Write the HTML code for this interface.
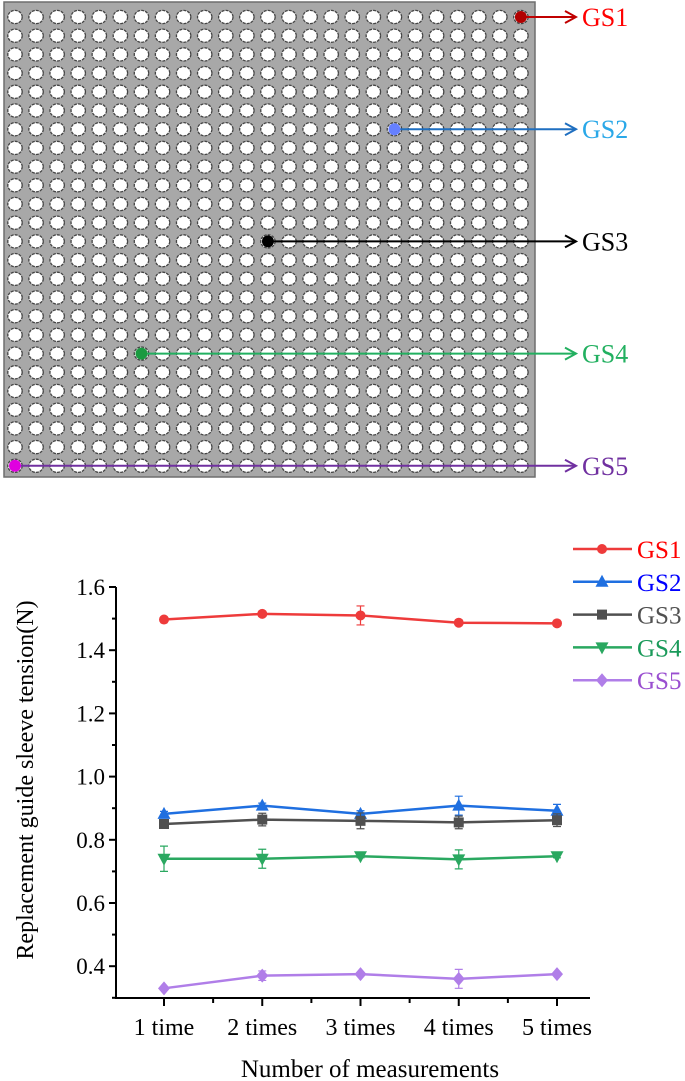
<!DOCTYPE html>
<html><head><meta charset="utf-8"><style>
body{margin:0;background:#fff;width:685px;height:1081px;overflow:hidden}
svg{display:block}
text{font-family:"Liberation Serif",serif}
</style></head><body>
<svg width="685" height="1081" viewBox="0 0 685 1081">
<defs>
<marker id="ah" markerWidth="14" markerHeight="14" refX="12" refY="7" orient="auto" markerUnits="userSpaceOnUse"><path d="M1,1 L12,7 L1,13" fill="none" stroke="context-stroke" stroke-width="2"/></marker>
</defs>
<g id="panel">
<rect x="4" y="2" width="531" height="475" fill="#a8a8a8" stroke="#6e6e6e" stroke-width="1.5"/>
<g id="holes"></g>
</g>
<g id="callouts"></g>
<g id="chart"></g>
</svg>
<script>
const NS='http://www.w3.org/2000/svg';
function mk(p,t,a){const e=document.createElementNS(NS,t);for(const k in a)e.setAttribute(k,a[k]);p.appendChild(e);return e;}
const holes=document.getElementById('holes');
for(let r=0;r<25;r++)for(let c=0;c<25;c++){
 const e=mk(holes,'ellipse',{cx:15+c*21.08,cy:17+r*18.7,rx:7.2,ry:6.6,fill:'#fff',stroke:'#444','stroke-width':1.3,'stroke-dasharray':'3 1'});
 
 
}
const callNames=['GS1','GS2','GS3','GS4','GS5'];
const callCols=[24,18,12,6,0];
const callRows=[0,6,12,18,24];
const callLine=['#c00000','#1f6fc0','#000','#22b060','#7030a0'];
const callDot=['#b00000','#6680ff','#000','#1a9a40','#e000e0'];
const callText=['#ff0000','#2aa8e8','#000','#22b060','#7030a0'];
const co=document.getElementById('callouts');
callNames.forEach((n,i)=>{
 const x=15+callCols[i]*21.08,y=17+callRows[i]*18.7;
 const l=mk(co,'line',{x1:x,y1:y,x2:576,y2:y,stroke:callLine[i],'stroke-width':2,'marker-end':'url(#ah)'});
 
 
 const d=mk(co,'circle',{cx:x,cy:y,r:6,fill:callDot[i]});
 
 
 const t=mk(co,'text',{x:582,y:y+9,'font-size':26,fill:callText[i]});t.textContent=n;
 
 
});
</script>
<script>
const categories=['1 time','2 times','3 times','4 times','5 times'];
const yTicks=[0.4,0.6,0.8,1.0,1.2,1.4,1.6];
const seriesNames=['GS1','GS2','GS3','GS4','GS5'];
const gs1=[1.497,1.515,1.51,1.487,1.485];
const gs2=[0.882,0.908,0.882,0.908,0.892];
const gs3=[0.85,0.864,0.86,0.855,0.862];
const gs4=[0.74,0.74,0.748,0.738,0.748];
const gs5=[0.33,0.37,0.375,0.36,0.375];
const err1=[0.005,0.008,0.03,0.006,0.005];
const err2=[0.008,0.008,0.01,0.03,0.02];
const err3=[0.01,0.02,0.025,0.02,0.02];
const err4=[0.04,0.03,0.005,0.03,0.005];
const err5=[0.005,0.015,0.005,0.03,0.005];
const g=document.getElementById('chart');
const X0=116,Y0=998;
const xs=i=>164+i*98.25;
const ys=v=>587-(v-1.6)*316;
const ax=mk(g,'path',{d:`M${X0},${ys(1.6)} V${Y0} H590`,fill:'none',stroke:'#000','stroke-width':2});


yTicks.forEach(v=>{
 mk(g,'line',{x1:X0-7,x2:X0,y1:ys(v),y2:ys(v),stroke:'#000','stroke-width':2});
 if(v<1.55)mk(g,'line',{x1:X0-4,x2:X0,y1:ys(v+0.1),y2:ys(v+0.1),stroke:'#000','stroke-width':2});
 const t=mk(g,'text',{x:X0-11,y:ys(v)+8,'font-size':23,'text-anchor':'end'});t.textContent=v.toFixed(1);
 
 
});
mk(g,'line',{x1:X0-4,x2:X0,y1:ys(0.3),y2:ys(0.3),stroke:'#000','stroke-width':2});
categories.forEach((c,i)=>{
 mk(g,'line',{x1:xs(i),x2:xs(i),y1:Y0,y2:Y0+8,stroke:'#000','stroke-width':2});
 if(i<4)mk(g,'line',{x1:xs(i+0.5),x2:xs(i+0.5),y1:Y0,y2:Y0+5,stroke:'#000','stroke-width':2});
 const t=mk(g,'text',{x:xs(i),y:1035,'font-size':24,'text-anchor':'middle'});t.textContent=c;
 
 
});
const yt=mk(g,'text',{transform:'translate(33,780) rotate(-90)','font-size':24,'text-anchor':'middle'});yt.textContent='Replacement guide sleeve tension(N)';


const xt=mk(g,'text',{x:370,y:1077,'font-size':25,'text-anchor':'middle'});xt.textContent='Number of measurements';


const data=[gs1,gs2,gs3,gs4,gs5],errs=[err1,err2,err3,err4,err5];
const lc=['#ee3b3b','#1f6fe0','#505050','#2aa860','#b07ee8'];
const tc=['#ff0000','#0000ff','#505050','#1a9a5a','#9a4fd0'];
const shapes=['circle','up','square','down','diamond'];
function marker(p,s,x,y,c){
 if(s==='circle')return mk(p,'circle',{cx:x,cy:y,r:5,fill:c});
 if(s==='square')return mk(p,'rect',{x:x-5,y:y-5,width:10,height:10,fill:c});
 if(s==='up')return mk(p,'path',{d:`M${x},${y-7}L${x+6.5},${y+5}L${x-6.5},${y+5}Z`,fill:c});
 if(s==='down')return mk(p,'path',{d:`M${x},${y+7}L${x+6.5},${y-5}L${x-6.5},${y-5}Z`,fill:c});
 return mk(p,'path',{d:`M${x},${y-7}L${x+6},${y}L${x},${y+7}L${x-6},${y}Z`,fill:c});
}
data.forEach((arr,s)=>{
 const sg=mk(g,'g',{});
 
 
 arr.forEach((v,i)=>{
  const e=errs[s][i],x=xs(i);
  mk(sg,'path',{d:`M${x},${ys(v+e)}V${ys(v-e)}M${x-4},${ys(v+e)}H${x+4}M${x-4},${ys(v-e)}H${x+4}`,stroke:lc[s],'stroke-width':1.2,fill:'none'});
 });
 mk(sg,'polyline',{points:arr.map((v,i)=>xs(i)+','+ys(v)).join(' '),fill:'none',stroke:lc[s],'stroke-width':2.5});
 arr.forEach((v,i)=>{const m=marker(sg,shapes[s],xs(i),ys(v),lc[s]);
  
  });
 const ly=549+s*32.8;
 const lg=mk(g,'g',{});
 
 
 mk(lg,'line',{x1:573,x2:632,y1:ly,y2:ly,stroke:lc[s],'stroke-width':2.5});
 marker(lg,shapes[s],602,ly,lc[s]);
 const t=mk(lg,'text',{x:637,y:ly+9,'font-size':25,fill:tc[s]});t.textContent=seriesNames[s];
});
</script>
</body></html>
